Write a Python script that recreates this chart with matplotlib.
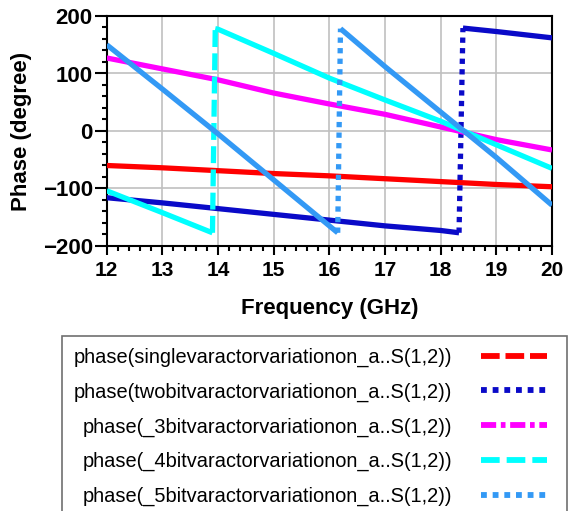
import numpy as np
import matplotlib
matplotlib.use("Agg")
import matplotlib.pyplot as plt
from matplotlib.lines import Line2D
from matplotlib.patches import Rectangle

plt.rcParams['font.family'] = ['Liberation Sans', 'DejaVu Sans']

# values (GHz, degree)
freq_single = [12, 13, 14, 15, 16, 17, 18, 19, 20]
phase_single = [-60, -64, -69, -74, -78, -83, -88, -93, -97]

freq_two = [12, 13, 14, 15, 16, 17, 18, 18.33, 18.4, 19, 20]
phase_two = [-116, -125, -135, -145, -155, -165, -173, -177, 179, 173, 162]

freq_3bit = [12, 13, 14, 15, 16, 17, 18, 19, 20]
phase_3bit = [127, 108, 89, 66, 47, 29, 7, -15, -33]

freq_4bit = [12, 13, 13.9, 13.95, 14, 15, 16, 17, 18, 19, 20]
phase_4bit = [-104, -142, -177, 178, 177, 135, 92, 54, 17, -24, -65]

freq_5bit = [12, 13, 14, 15, 16, 16.15, 16.2, 17, 18, 19, 20]
phase_5bit = [150, 73, -5, -85, -165, -177, 178, 112, 33, -46, -129]

labels = ["phase(singlevaractorvariationon_a..S(1,2))",
          "phase(twobitvaractorvariationon_a..S(1,2))",
          "phase(_3bitvaractorvariationon_a..S(1,2))",
          "phase(_4bitvaractorvariationon_a..S(1,2))",
          "phase(_5bitvaractorvariationon_a..S(1,2))"]

series = [
    (freq_single, phase_single, '#ff0000', (3.2, 1.0)),
    (freq_two, phase_two, '#0a0ac8', (1.0, 1.0)),
    (freq_3bit, phase_3bit, '#ff00ff', (2.6, 0.8, 0.8, 0.8)),
    (freq_4bit, phase_4bit, '#00ffff', (3.2, 1.2)),
    (freq_5bit, phase_5bit, '#3399f5', (1.0, 1.0)),
]

fig = plt.figure(figsize=(5.68, 5.11), dpi=100)
ax = fig.add_axes([106.7 / 568, 1 - 246 / 511, (552 - 106.7) / 568, 230 / 511])

lw = 3.8
handles = []
for (f, p, col, dash), lab in zip(series, labels):
    f = np.array(f, dtype=float)
    p = np.array(p, dtype=float)
    # phase wraps: draw the long jump with the dash style, the rest solid
    jumps = np.where(np.abs(np.diff(p)) > 180)[0]
    start = 0
    for j in jumps:
        ax.plot(f[start:j + 1], p[start:j + 1], color=col, lw=lw, solid_capstyle='butt', zorder=3)
        ax.plot(f[j:j + 2], p[j:j + 2], color=col, lw=lw, dashes=dash, dash_capstyle='butt', zorder=3)
        start = j + 1
    ax.plot(f[start:], p[start:], color=col, lw=lw, solid_capstyle='butt', zorder=3)
    handles.append(Line2D([], [], color=col, lw=4.2, dashes=dash, dash_capstyle='butt', label=lab))

ax.set_xlim(12, 20)
ax.set_ylim(-200, 200)
ax.set_xticks(np.arange(12, 21, 1))
ax.set_yticks([-200, -100, 0, 100, 200])
ax.set_xticks(np.arange(12, 20.01, 0.2), minor=True)
ax.set_yticks(np.arange(-200, 201, 20), minor=True)
ax.grid(True, which='major', color='#c0c0c0', lw=1.2, zorder=1)
ax.set_axisbelow(True)

for s in ax.spines.values():
    s.set_linewidth(1.5)
ax.tick_params(axis='both', which='both', direction='out', width=1.5)
ax.tick_params(axis='x', which='major', length=6.5, pad=4, labelsize=15)
ax.tick_params(axis='x', which='minor', length=3.5)
ax.tick_params(axis='y', which='major', length=9, pad=1, labelsize=16)
ax.tick_params(axis='y', which='minor', length=3.5)
for t in ax.get_xticklabels() + ax.get_yticklabels():
    t.set_fontweight('bold')

ax.set_xlabel("Frequency (GHz)", fontsize=16, fontweight='bold', labelpad=13)
ax.set_ylabel("Phase (degree)", fontsize=16, fontweight='bold', labelpad=8)

# legend box runs off the right/bottom edge like the original
fig.patches.append(Rectangle((62 / 568, -0.02), (567 - 62) / 568, 1 - 336 / 511 + 0.02,
                             transform=fig.transFigure, fill=False, edgecolor='#707070', lw=1.2))
leg = fig.legend(handles=handles, loc='upper left', bbox_to_anchor=(62 / 568, 1 - 336 / 511),
                 borderaxespad=0, markerfirst=False, fontsize=14.4, handlelength=3.3,
                 handletextpad=1.45, labelspacing=0.78, borderpad=0.58, frameon=False)

fig.savefig("out.png", dpi=100)
